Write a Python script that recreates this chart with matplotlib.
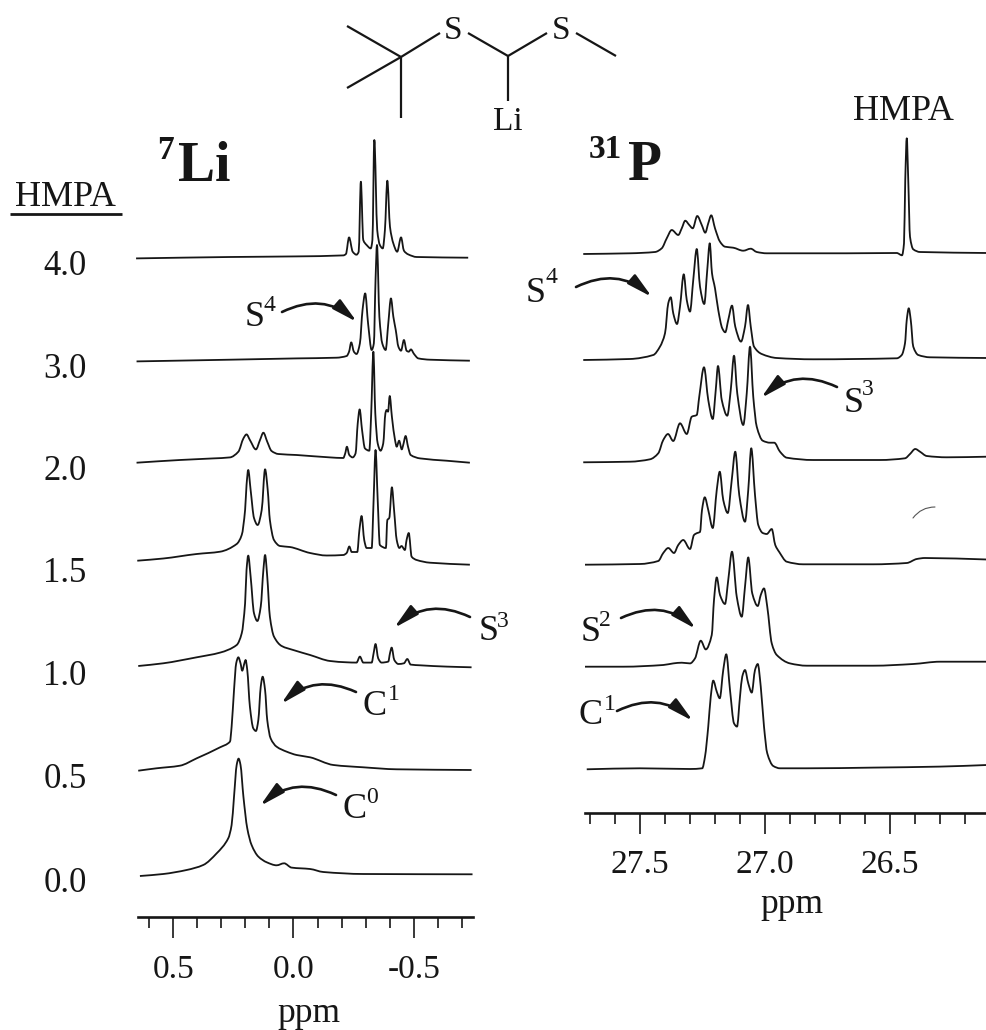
import matplotlib
matplotlib.use("Agg")
import matplotlib.pyplot as plt
from matplotlib.patches import FancyArrowPatch, PathPatch
from matplotlib.path import Path
from matplotlib.ticker import MultipleLocator, FormatStrFormatter
from matplotlib.transforms import ScaledTranslation

plt.rcParams['font.family'] = ['Liberation Serif', 'DejaVu Serif']
plt.rcParams['axes.unicode_minus'] = False

INK = '#161616'

# equivalents of HMPA, one row per spectrum
hmpa_labels = ['4.0', '3.0', '2.0', '1.5', '1.0', '0.5', '0.0']

# 7Li spectra, ppm and intensity
li40_ppm = [0.654, 0.264, -0.013, -0.207, -0.218, -0.231, -0.246, -0.262, -0.271, -0.280, -0.290, -0.304, -0.321, -0.328, -0.336, -0.348, -0.359, -0.371, -0.380, -0.390, -0.401, -0.415, -0.431, -0.447, -0.459, -0.477, -0.512, -0.726]
li40_int = [-0.7, 0.7, 1.3, 2.3, 3.7, 20.3, 6, 3, 6, 76, 17.7, 12.7, 9.3, 17.7, 117.7, 27.7, 12.7, 9.3, 27.7, 77, 31, 14.3, 6, 20.3, 7, 3.3, 0.7, 0]

li30_ppm = [0.652, 0.264, -0.013, -0.179, -0.221, -0.231, -0.240, -0.251, -0.262, -0.276, -0.287, -0.298, -0.310, -0.325, -0.334, -0.341, -0.347, -0.357, -0.369, -0.383, -0.394, -0.405, -0.415, -0.425, -0.436, -0.447, -0.459, -0.470, -0.479, -0.488, -0.501, -0.519, -0.567, -0.733]
li30_int = [-0.7, 1, 2.3, 3, 4.7, 9, 18.3, 9, 6.7, 17.3, 50.7, 67.3, 37.3, 10.7, 17.3, 80.7, 115.7, 44, 17.3, 10.7, 37.3, 62.3, 44, 30.7, 14, 10, 20.7, 10, 9, 11.3, 6.7, 2.3, 1, 0]

li20_ppm = [0.652, 0.472, 0.333, 0.264, 0.229, 0.208, 0.195, 0.181, 0.156, 0.139, 0.125, 0.109, 0.091, 0.063, -0.013, -0.152, -0.207, -0.215, -0.222, -0.232, -0.246, -0.258, -0.267, -0.275, -0.285, -0.297, -0.315, -0.323, -0.332, -0.340, -0.350, -0.362, -0.373, -0.382, -0.387, -0.393, -0.400, -0.409, -0.422, -0.429, -0.439, -0.450, -0.456, -0.466, -0.476, -0.487, -0.526, -0.636, -0.733]
li20_int = [0, 2.7, 4.3, 5.3, 11, 24.3, 28.3, 22.7, 13.3, 22.7, 30, 21, 11.7, 8.7, 7.7, 5.3, 4.7, 9.3, 16, 7.7, 5.3, 9.3, 39.3, 53.3, 32.7, 14.3, 12, 49.3, 111, 49.3, 19.3, 12, 19.3, 49.3, 52.7, 51, 66.7, 46, 22.7, 16, 22, 13.3, 17.7, 26.7, 16, 7.7, 4.3, 2, 0]

li15_ppm = [0.649, 0.541, 0.402, 0.305, 0.236, 0.215, 0.201, 0.195, 0.188, 0.178, 0.164, 0.149, 0.132, 0.118, 0.107, 0.098, 0.081, 0.056, 0.015, -0.069, -0.138, -0.207, -0.221, -0.232, -0.242, -0.265, -0.274, -0.283, -0.294, -0.304, -0.325, -0.333, -0.341, -0.350, -0.359, -0.384, -0.390, -0.398, -0.409, -0.418, -0.429, -0.440, -0.449, -0.463, -0.470, -0.479, -0.491, -0.512, -0.567, -0.733]
li15_int = [4, 6.2, 10.7, 13, 20.7, 29.7, 54.7, 79.7, 94.7, 74.7, 46.7, 39.7, 54.7, 95.4, 74.7, 44.7, 24.7, 18.7, 17.7, 11.7, 9.2, 9.7, 11.7, 18.2, 12.7, 12.7, 34.7, 48.7, 24.7, 16.7, 16.7, 64.7, 114.7, 64.7, 19.7, 16.7, 44.7, 46.7, 77.4, 54.7, 24.7, 16.7, 18.7, 14.7, 24.7, 31.7, 8, 4.7, 2, 0]

li10_ppm = [0.645, 0.541, 0.402, 0.305, 0.236, 0.215, 0.201, 0.195, 0.188, 0.178, 0.164, 0.150, 0.136, 0.125, 0.118, 0.109, 0.098, 0.081, 0.049, 0.001, -0.069, -0.152, -0.221, -0.262, -0.276, -0.290, -0.325, -0.333, -0.341, -0.352, -0.366, -0.394, -0.401, -0.408, -0.419, -0.436, -0.459, -0.473, -0.487, -0.526, -0.636, -0.740]
li10_int = [1.3, 4, 10, 14.7, 22.3, 34, 64, 97.3, 111.7, 90.7, 54, 46.3, 60.7, 97.3, 112.3, 90.7, 50.7, 30.7, 21.3, 17.3, 12.3, 6.3, 5, 4.7, 10.7, 4.7, 4.7, 14, 23.3, 9, 4.7, 5.7, 14, 19.7, 7.3, 3.3, 4, 8.3, 2.7, 2, 0.7, 0]

li05_ppm = [0.645, 0.569, 0.472, 0.402, 0.305, 0.264, 0.257, 0.247, 0.238, 0.229, 0.220, 0.213, 0.204, 0.199, 0.192, 0.181, 0.167, 0.156, 0.146, 0.136, 0.128, 0.118, 0.109, 0.095, 0.070, 0.028, -0.013, -0.069, -0.166, -0.290, -0.429, -0.740]
li05_int = [-0.7, 1.7, 4.3, 11.7, 22.7, 28.3, 43.3, 80, 106.7, 112.7, 106.7, 99.3, 106.7, 110, 100, 63.3, 41.7, 39, 50, 83.3, 93.3, 80, 50, 31.7, 23.3, 18.3, 15, 12.7, 5, 2.7, 0.7, 0]

li00_ppm = [0.638, 0.541, 0.444, 0.375, 0.319, 0.271, 0.257, 0.247, 0.236, 0.228, 0.220, 0.208, 0.192, 0.174, 0.146, 0.111, 0.070, 0.039, 0.008, -0.069, -0.124, -0.290, -0.744]
li00_int = [-1.7, 0.3, 4.3, 9.3, 21, 36, 49.3, 77.7, 109.3, 115.7, 109.3, 77.7, 46, 29.3, 17.7, 12, 9, 11, 6.7, 5.3, 2.3, 0.3, 0]

# 31P spectra
p40_ppm = [27.727, 27.540, 27.440, 27.413, 27.393, 27.373, 27.347, 27.333, 27.319, 27.303, 27.289, 27.271, 27.253, 27.239, 27.227, 27.215, 27.200, 27.180, 27.160, 27.127, 27.087, 27.057, 27.033, 26.993, 26.673, 26.473, 26.452, 26.444, 26.439, 26.433, 26.427, 26.420, 26.407, 26.380, 26.112]
p40_int = [-1, -0.3, 1, 4.7, 14.7, 23, 18, 24.7, 32.3, 28, 24.7, 37, 28, 20.3, 29.7, 37.7, 24.7, 11.3, 6.3, 5.3, 2.3, 4.3, 1, -0.3, -0.3, 0, -2.3, 9.7, 73, 114.7, 73, 16.3, 3.7, 1, 0]

p30_ppm = [27.727, 27.540, 27.447, 27.420, 27.400, 27.387, 27.377, 27.367, 27.352, 27.340, 27.325, 27.313, 27.300, 27.287, 27.273, 27.260, 27.243, 27.231, 27.221, 27.212, 27.200, 27.187, 27.171, 27.159, 27.147, 27.132, 27.119, 27.096, 27.080, 27.068, 27.057, 27.044, 27.013, 26.953, 26.807, 26.473, 26.453, 26.440, 26.433, 26.425, 26.417, 26.407, 26.387, 26.340, 26.112]
p30_int = [-1.7, -0.7, 3.3, 11.7, 25, 55, 61, 45, 34.3, 51.7, 84, 58.3, 46.7, 78.3, 109.3, 71.7, 54.3, 88.3, 115, 85, 70, 48.3, 30, 26, 38.3, 52.7, 31.7, 16.7, 31.7, 53.3, 31.7, 11.7, 4.3, 0.3, -1, 0, 3.3, 15, 38.3, 50, 38.3, 11.7, 3.3, 1, 0.3]

p20_ppm = [27.727, 27.540, 27.460, 27.427, 27.407, 27.388, 27.367, 27.340, 27.313, 27.293, 27.273, 27.263, 27.244, 27.227, 27.209, 27.197, 27.188, 27.173, 27.151, 27.137, 27.124, 27.111, 27.087, 27.073, 27.060, 27.047, 27.033, 27.009, 26.980, 26.963, 26.940, 26.913, 26.807, 26.540, 26.440, 26.420, 26.399, 26.380, 26.353, 26.273, 26.112]
p20_int = [-2.3, -1.7, 0.7, 6.7, 20, 26, 19, 36.7, 26, 43.3, 45, 63.3, 92.7, 60, 41, 70, 94, 60, 44.3, 70, 104.3, 66.7, 35, 66.7, 113.3, 63.3, 33.3, 19.3, 17.3, 17.3, 8.3, 2.3, 0, 0, 1.7, 6, 11, 8.3, 4, 2.7, 3.3]

p15_ppm = [27.720, 27.500, 27.427, 27.407, 27.387, 27.364, 27.347, 27.327, 27.300, 27.284, 27.271, 27.260, 27.252, 27.241, 27.227, 27.209, 27.193, 27.181, 27.167, 27.149, 27.133, 27.119, 27.103, 27.080, 27.067, 27.055, 27.040, 27.027, 27.009, 26.993, 26.973, 26.959, 26.943, 26.913, 26.847, 26.567, 26.433, 26.393, 26.360, 26.112]
p15_int = [-0.4, 0.3, 3.3, 11.3, 16.3, 11.3, 19.3, 24.3, 15.3, 29.3, 31.3, 32.3, 54.3, 67, 54.3, 36.3, 74.3, 92.6, 64.3, 51.3, 84.3, 112.6, 69.3, 42.6, 74.3, 116, 69.3, 39.3, 31.3, 30.3, 35.3, 19.3, 12.3, 2.6, 0, 0, 1.3, 5.3, 6.3, 4.8]

p10_ppm = [27.720, 27.567, 27.407, 27.367, 27.333, 27.300, 27.280, 27.257, 27.237, 27.213, 27.204, 27.193, 27.180, 27.160, 27.147, 27.132, 27.113, 27.093, 27.080, 27.067, 27.051, 27.029, 27.017, 27.004, 26.991, 26.973, 26.953, 26.900, 26.833, 26.567, 26.407, 26.300, 26.112]
p10_int = [-1, -1, 0.7, 2.3, 3, 2.3, 7.3, 25, 16.3, 30.7, 65.7, 88.3, 70.7, 61.7, 85.7, 114, 69, 49, 79, 108.3, 72.3, 59.7, 70.7, 77.3, 59, 22.3, 10.7, 2.3, 0, 0, 1.7, 4, 4]

p05_ppm = [27.713, 27.500, 27.300, 27.251, 27.240, 27.227, 27.217, 27.207, 27.193, 27.181, 27.167, 27.155, 27.140, 27.124, 27.112, 27.100, 27.091, 27.080, 27.067, 27.053, 27.040, 27.029, 27.017, 27.004, 26.991, 26.967, 26.940, 26.833, 26.567, 26.300, 26.112]
p05_int = [-1, 0, -0.7, 0, 11.7, 41.7, 71.7, 87.7, 76.7, 70, 98.3, 114, 78.3, 45, 41.7, 71.7, 91.7, 98.3, 85, 75.7, 98.3, 104.3, 81.7, 41.7, 15, 2.3, 0, 0, 0.7, 1.7, 3.3]

# stacking offsets of the rows
li_offsets = [687.3, 584.3, 482.3, 380.3, 277.7, 175, 70.7]
p_offsets = [692, 586.7, 485, 380.7, 279.3, 176.7]

li_traces = [(li40_ppm, li40_int), (li30_ppm, li30_int), (li20_ppm, li20_int), (li15_ppm, li15_int),
             (li10_ppm, li10_int), (li05_ppm, li05_int), (li00_ppm, li00_int)]
p_traces = [(p40_ppm, p40_int), (p30_ppm, p30_int), (p20_ppm, p20_int), (p15_ppm, p15_int),
            (p10_ppm, p10_int), (p05_ppm, p05_int)]

W, H = 987, 1030
fig = plt.figure(figsize=(W / 100, H / 100), dpi=100, facecolor='white')


def px_axes(left, right, top, bottom):
    return fig.add_axes([left / W, 1 - bottom / H, (right - left) / W, (bottom - top) / H])


def style_axis(ax, spine_y, xlim, pad):
    ax.patch.set_alpha(0)
    ax.set_xlim(*xlim)
    ax.set_ylim(0, 825)
    for s in ['top', 'left', 'right']:
        ax.spines[s].set_visible(False)
    ax.spines['bottom'].set_position(('data', spine_y))
    ax.spines['bottom'].set_linewidth(1.9)
    ax.spines['bottom'].set_color(INK)
    ax.xaxis.set_major_locator(MultipleLocator(0.5))
    ax.xaxis.set_minor_locator(MultipleLocator(0.1))
    ax.xaxis.set_major_formatter(FormatStrFormatter('%.1f'))
    ax.tick_params(axis='x', which='major', length=15, width=1.2, color=INK, labelsize=24, pad=pad, labelcolor=INK)
    ax.tick_params(axis='x', which='minor', length=8, width=1.2, color=INK)


# curve through the read points, flat at each peak and valley so the tops stay round
def trace_path(x, y):
    n = len(x)
    d = [(y[i + 1] - y[i]) / (x[i + 1] - x[i]) for i in range(n - 1)]
    m = [d[0]] + [0.0] * (n - 2) + [d[-1]]
    for i in range(1, n - 1):
        if d[i - 1] * d[i] > 0:
            m[i] = 2 * d[i - 1] * d[i] / (d[i - 1] + d[i])
    verts = [(x[0], y[0])]
    codes = [Path.MOVETO]
    for i in range(n - 1):
        h = (x[i + 1] - x[i]) / 3
        verts += [(x[i] + h, y[i] + m[i] * h), (x[i + 1] - h, y[i + 1] - m[i + 1] * h), (x[i + 1], y[i + 1])]
        codes += [Path.CURVE4] * 3
    return Path(verts, codes)


def draw_traces(ax, traces, offsets):
    for (x, y), off in zip(traces, offsets):
        ax.add_patch(PathPatch(trace_path(x, [v + off for v in y]), fill=False, edgecolor=INK, lw=1.3,
                               joinstyle='round', clip_on=False))


# 7Li panel
ax1 = px_axes(138, 473, 120, 945)
style_axis(ax1, 28, (0.646, -0.746), 12)
draw_traces(ax1, li_traces, li_offsets)
ax1.set_yticks(li_offsets, hmpa_labels)
ax1.tick_params(axis='y', length=0, pad=37, labelsize=25, labelcolor=INK)
for lab in ax1.get_yticklabels():
    lab.set_transform(lab.get_transform() + ScaledTranslation(0, -5 / 100, fig.dpi_scale_trans))
ax1.set_xlabel('ppm', fontsize=25.5, color=INK, va='baseline')
ax1.xaxis.set_label_coords(0.509, -0.0933)

# 31P panel
ax2 = px_axes(585, 987, 120, 945)
style_axis(ax2, 132, (27.72, 26.112), 11)
draw_traces(ax2, p_traces, p_offsets)
ax2.set_yticks([])
ax2.set_xlabel('ppm', fontsize=25.5, color=INK, va='baseline')
ax2.xaxis.set_label_coords(0.515, 0.0388)

# overlay in pixel coordinates for the drawing and the labels
ov = fig.add_axes([0, 0, 1, 1])
ov.set_xlim(0, W)
ov.set_ylim(H, 0)
ov.axis('off')
ov.patch.set_alpha(0)


def bond(x0, y0, x1, y1, lw=1.6):
    ov.plot([x0, x1], [y0, y1], color=INK, lw=lw, solid_capstyle='butt')


bond(401, 57, 347, 26)
bond(401, 57, 347, 88)
bond(401, 57, 401, 118)
bond(401, 57, 440, 33)
bond(468, 33, 508, 56)
bond(508, 56, 547, 33)
bond(576, 33, 616, 56)
bond(508, 56, 508, 101)
ov.text(453, 39, 'S', fontsize=24, ha='center', va='baseline', color=INK)
ov.text(561, 39, 'S', fontsize=24, ha='center', va='baseline', color=INK)
ov.text(508, 130, 'Li', fontsize=24, ha='center', va='baseline', color=INK)

# titles
ov.text(178, 181, 'Li', fontsize=40, fontweight='bold', va='baseline', color=INK)
ov.text(157, 159, '7', fontsize=24, fontweight='bold', va='baseline', color=INK)
ov.text(628, 180, 'P', fontsize=40, fontweight='bold', va='baseline', color=INK)
ov.text(589, 158, '31', fontsize=24, fontweight='bold', va='baseline', color=INK)

# HMPA headings
ov.text(15, 206, 'HMPA', fontsize=26, va='baseline', color=INK)
bond(10, 214, 122, 214, lw=2)
ov.text(853, 120, 'HMPA', fontsize=26, va='baseline', color=INK)


def mark(x, y, base, sup, sup_x, sup_y):
    ov.text(x, y, base, fontsize=26, va='baseline', color=INK)
    ov.text(sup_x, sup_y, sup, fontsize=17, va='baseline', color=INK)


mark(245, 326, 'S', '4', 263, 311)
mark(479, 640, 'S', '3', 497, 627)
mark(362, 715, 'C', '1', 388, 700)
mark(342, 818, 'C', '0', 366, 803)
mark(526, 302, 'S', '4', 545, 283)
mark(844, 412, 'S', '3', 862, 395)
mark(581, 641, 'S', '2', 599, 626)
mark(578, 724, 'C', '1', 604, 710)


def arrow(x0, y0, x1, y1, rad):
    ov.add_patch(FancyArrowPatch((x0, y0), (x1, y1), connectionstyle='arc3,rad=%s' % rad,
                                 arrowstyle='-|>,head_length=0.85,head_width=0.2', mutation_scale=18,
                                 lw=1.9, color=INK, shrinkA=0, shrinkB=0))


arrow(282, 312, 357, 322, -0.33)
arrow(470, 617, 394, 628, 0.33)
arrow(356, 692, 281, 704, 0.33)
arrow(336, 795, 260, 806, 0.33)
arrow(576, 287, 652, 297, -0.33)
arrow(837, 387, 761, 398, 0.33)
arrow(621, 618, 696, 629, -0.33)
arrow(617, 711, 693, 721, -0.33)

# the small stray pen stroke right of the 1.5 row
ov.add_patch(FancyArrowPatch((913, 518), (935, 507), connectionstyle='arc3,rad=-0.25', arrowstyle='-',
                             lw=0.8, color='#555555', shrinkA=0, shrinkB=0))

fig.savefig('out.png', dpi=100, facecolor='white')
